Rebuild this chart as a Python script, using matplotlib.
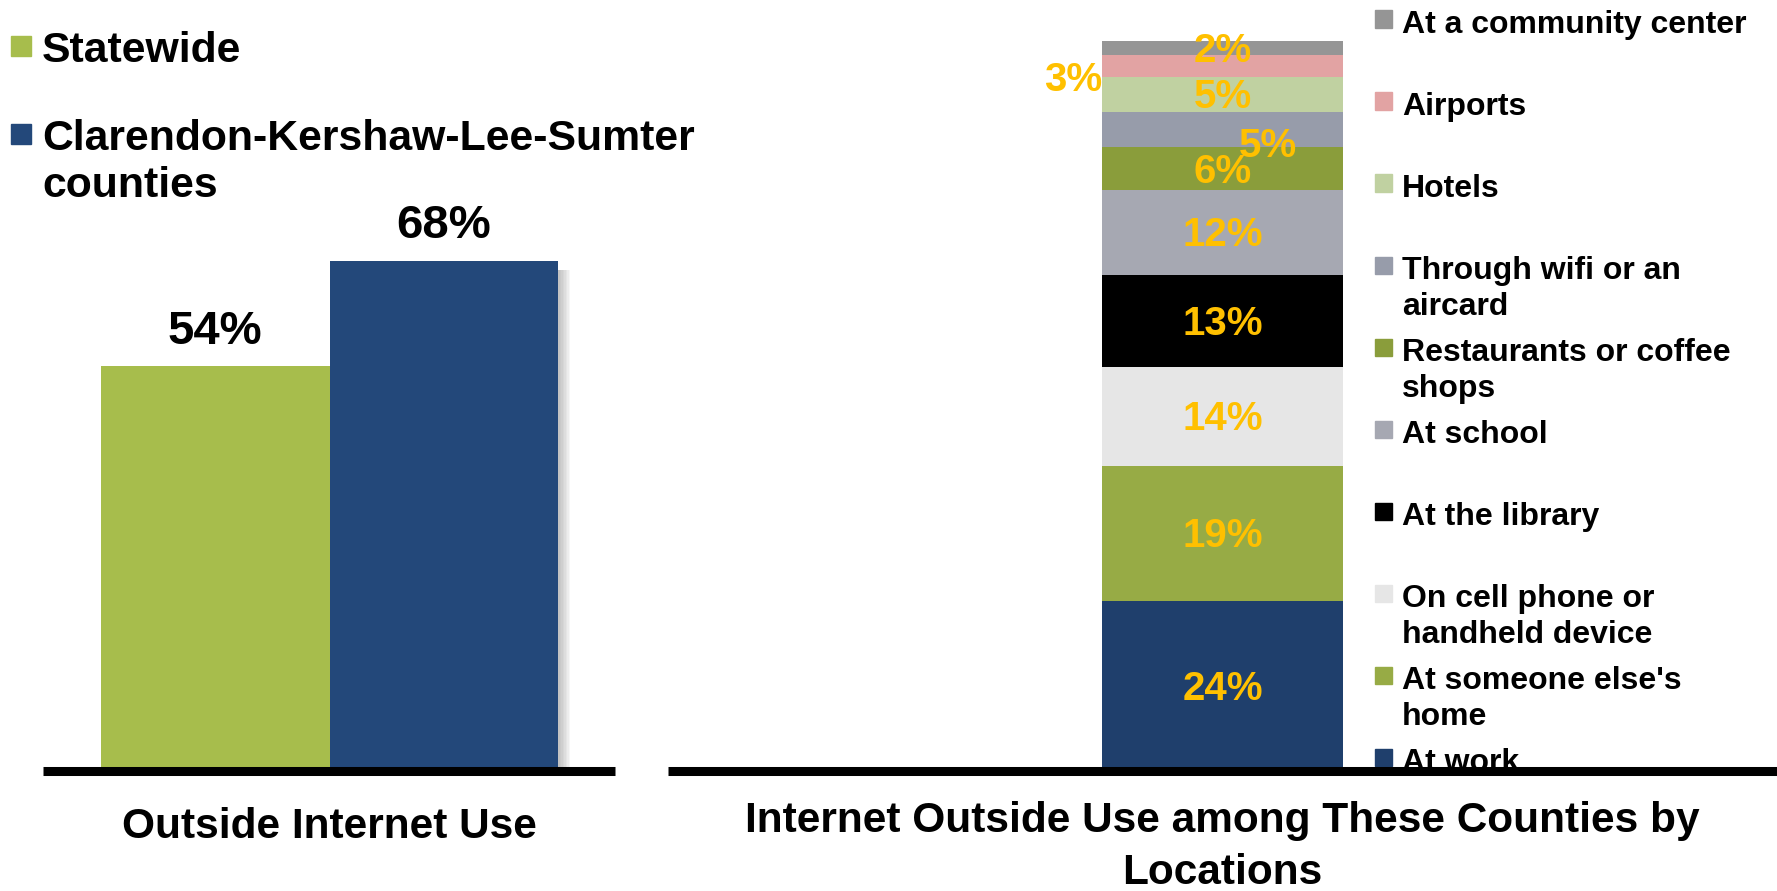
import numpy as np
import matplotlib
matplotlib.use("Agg")
import matplotlib.pyplot as plt

plt.rcParams['font.family'] = ['Liberation Sans', 'DejaVu Sans']
plt.rcParams['font.weight'] = 'bold'

# left chart data
groups = ["Statewide", "Clarendon-Kershaw-Lee-Sumter\ncounties"]
group_vals = [54, 68]
group_colors = ["#A7BD4C", "#23487A"]

# right chart data (bottom to top)
locations = ["At work", "At someone else's\nhome", "On cell phone or\nhandheld device",
             "At the library", "At school", "Restaurants or coffee\nshops",
             "Through wifi or an\naircard", "Hotels", "Airports", "At a community center"]
loc_vals = [24, 19, 14, 13, 12, 6, 5, 5, 3, 2]
loc_colors = ["#1F3F6C", "#97AB45", "#E6E6E6", "#000000", "#A6A8B2",
              "#8A9D3B", "#979CAA", "#C0D1A1", "#E2A3A3", "#959595"]

W, H = 1777, 891
fig = plt.figure(figsize=(W / 100, H / 100), dpi=100)


def fx(px):
    return px / W


def fy(py):
    return 1 - py / H


base = 770.5
label_gold = "#FFC000"

# ---- left chart ----
ax1 = fig.add_axes([fx(43), fy(base), fx(615 - 43), base / H])
ax1.patch.set_alpha(0)
x = np.arange(len(group_vals))
# soft shadow on the right side of the bars
for k in range(1, 9):
    ax1.bar(x - 0.5, np.array(group_vals) - 1.2, width=1.0 + k * 0.0066,
            align='edge', color="#808080", alpha=0.07, zorder=1, linewidth=0)
bars = ax1.bar(x, group_vals, width=1.0, color=group_colors, zorder=2)
ax1.set_xlim(-0.754, 1.749)
ax1.set_ylim(0, base / 7.5)
for b, v in zip(bars, group_vals):
    ax1.annotate(f"{v}%", (b.get_x() + b.get_width() / 2, v), xytext=(0, 34),
                 textcoords='offset pixels', ha='center', va='center',
                 fontsize=34, fontweight='bold')
for s in ['top', 'left', 'right']:
    ax1.spines[s].set_visible(False)
ax1.spines['bottom'].set_linewidth(6.5)
ax1.spines['bottom'].set_capstyle('butt')
ax1.spines['bottom'].set_zorder(5)
ax1.set_xticks([])
ax1.set_yticks([])

# left legend
leg_y = [46, 134]
for name, c, yy in zip(groups, group_colors, leg_y):
    fig.patches.append(plt.Rectangle((fx(11), fy(yy + 10)), fx(20), 20 / H,
                                     color=c, transform=fig.transFigure))
    fig.text(fx(42), fy(yy - 15), name, fontsize=30.8, fontweight='bold',
             va='top', ha='left', linespacing=1.22)

# ---- right chart ----
ax2 = fig.add_axes([fx(668), fy(base), fx(W - 668), base / H])
ax2.patch.set_alpha(0)
ax2.set_xlim(-2.301, 2.301)
ax2.set_ylim(0, base / 7.08)
bottom = 0
for i, (v, c) in enumerate(zip(loc_vals, loc_colors)):
    ax2.bar(0, v, width=1.0, bottom=bottom, color=c, zorder=2)
    cy = bottom + v / 2
    if i == 8:
        ax2.annotate(f"{v}%", (-0.5, cy), xytext=(0, -14), textcoords='offset pixels',
                     ha='right', va='center', fontsize=29, fontweight='bold',
                     color=label_gold, zorder=4)
    elif i == 6:
        ax2.annotate(f"{v}%", (0.19, cy), xytext=(0, -16), textcoords='offset pixels',
                     ha='center', va='center', fontsize=29, fontweight='bold',
                     color=label_gold, zorder=4)
    else:
        ax2.annotate(f"{v}%", (0, cy), xytext=(0, -3), textcoords='offset pixels',
                     ha='center', va='center', fontsize=29, fontweight='bold',
                     color=label_gold, zorder=4)
    bottom += v
for s in ['top', 'left', 'right']:
    ax2.spines[s].set_visible(False)
ax2.spines['bottom'].set_linewidth(6.5)
ax2.spines['bottom'].set_capstyle('butt')
ax2.spines['bottom'].set_zorder(5)
ax2.set_xticks([])
ax2.set_yticks([])

# right legend (top to bottom)
for k, (name, c) in enumerate(zip(locations[::-1], loc_colors[::-1])):
    my = 19 + 82 * k
    ax2.add_patch(plt.Rectangle((fx(1375), fy(my + 8.5)), fx(17), 17 / H,
                                color=c, transform=fig.transFigure, zorder=1,
                                clip_on=False))
    ax2.text(fx(1402), fy(my - 9), name, fontsize=23, fontweight='bold',
             ha='left', va='top', linespacing=1.25, transform=fig.transFigure,
             zorder=1, clip_on=False)

# titles
fig.text(fx(329), fy(827), "Outside Internet Use", fontsize=30.5,
         fontweight='bold', ha='center', va='center')
fig.text(fx(1222), fy(847), "Internet Outside Use among These Counties by\nLocations",
         fontsize=30.5, fontweight='bold', ha='center', va='center', linespacing=1.36)

fig.savefig("out.png", dpi=100)
